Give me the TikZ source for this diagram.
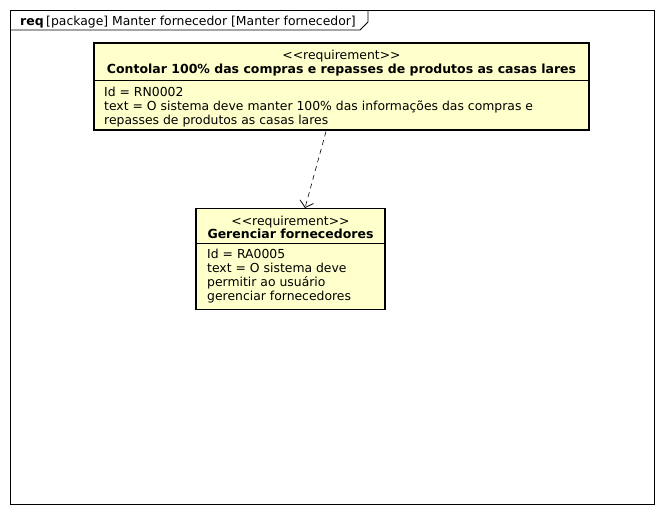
\documentclass[tikz,border=0pt]{standalone}
\usepackage{fontspec}
\setmainfont{DejaVu Sans}
\usetikzlibrary{arrows.meta}
\definecolor{reqfill}{HTML}{FFFFCC}
\tikzset{
  reqbox/.style={draw=black, line width=1.5pt, fill=reqfill, rectangle, inner sep=0pt},
  txt/.style={inner sep=0pt, font=\fontsize{12.4}{14}\selectfont},
  btxt/.style={inner sep=0pt, font=\fontsize{12.5}{14}\selectfont\bfseries},
  dep/.style={draw=black, line width=0.6pt, dash pattern=on 5pt off 4pt, -{Straight Barb[length=6pt,width=14pt,line width=0.8pt]}},
  frameline/.style={draw=black, line width=0.8pt}
}
\begin{document}
\begin{tikzpicture}[x=1pt,y=-1pt]
\useasboundingbox (0,0) rectangle (664,514);
\fill[white] (0,0) rectangle (664,514);
% frame
\draw[frameline] (10,10) rectangle (654,504);
\draw[frameline] (10,30) -- (360,30) -- (368,22) -- (368,10);
\node[btxt, anchor=base west] (reqlbl) at (20,25) {req};
\node[txt, anchor=base west] (pkglbl) at ([xshift=2pt]reqlbl.base east) {[package] Manter fornecedor [Manter fornecedor]};
% box 1
\node[reqbox, minimum width=495pt, minimum height=87pt] (r1) at (341.5,86.5) {};
\draw[line width=0.8pt] (94,80) -- (589,80);
\node[txt, anchor=base] (r1st) at (341.5,59) {<{}<requirement>{}>};
\node[btxt, anchor=base] (r1t) at (341.5,73.3) {Contolar 100\% das compras e repasses de produtos as casas lares};
\node[txt, anchor=base west] (r1a) at (104,96) {Id = RN0002};
\node[txt, anchor=base west] (r1b) at (104,110) {text = O sistema deve manter 100\% das informações das compras e};
\node[txt, anchor=base west] (r1c) at (104,124) {repasses de produtos as casas lares};
% box 2
\node[reqbox, minimum width=189pt, minimum height=101pt] (r2) at (290.5,259) {};
\draw[line width=0.8pt] (196,243.5) -- (385,243.5);
\node[txt, anchor=base] (r2st) at (290.5,225) {<{}<requirement>{}>};
\node[btxt, anchor=base] (r2t) at (290.5,238.3) {Gerenciar fornecedores};
\node[txt, anchor=base west] (r2a) at (207,258.3) {Id = RA0005};
\node[txt, anchor=base west] (r2b) at (207,272.3) {text = O sistema deve};
\node[txt, anchor=base west] (r2c) at (207,286.3) {permitir ao usuário};
\node[txt, anchor=base west] (r2d) at (207,300.3) {gerenciar fornecedores};
% dependency
\coordinate (a1) at (326,131.5);
\coordinate (a2) at (305,208);
\draw[dep] (a1) -- (a2);
\end{tikzpicture}
\end{document}
